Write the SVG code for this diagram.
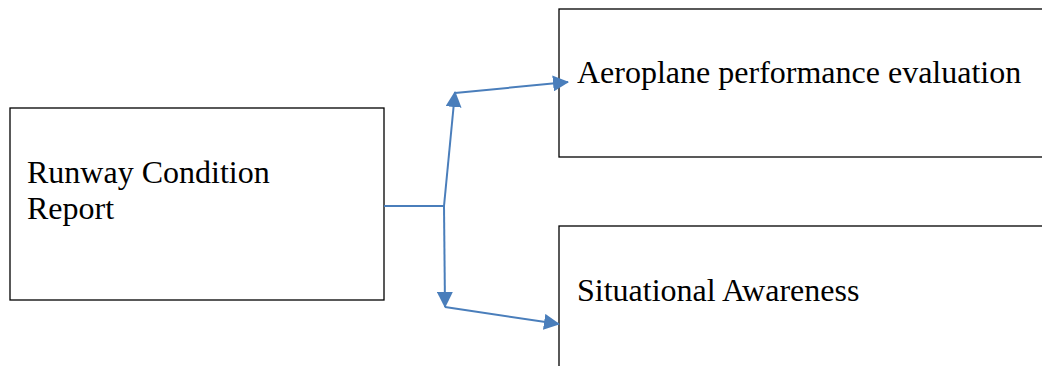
<svg xmlns="http://www.w3.org/2000/svg" width="1042" height="366" viewBox="0 0 1042 366">
  <style>
    .box { fill: #ffffff; stroke: #000000; stroke-width: 1.3; }
    .label { font-family: "Liberation Serif", "Times New Roman", serif; font-size: 32px; fill: #000000; }
    .link { fill: none; stroke: #4a7ebb; stroke-width: 2; }
  </style>
  <defs>
    <!-- filled triangular head shared by all connectors -->
    <marker id="arrow" markerUnits="userSpaceOnUse" markerWidth="16" markerHeight="16" viewBox="0 0 16 16" refX="15" refY="8" orient="auto">
      <path d="M0,0 L16,8 L0,16 Z" fill="#4a7ebb"/>
    </marker>
  </defs>

  <rect width="1042" height="366" fill="#ffffff"/>

  <g id="runway-condition-report">
    <rect class="box" x="10" y="108" width="374" height="192"/>
    <text class="label" x="27" y="183">Runway Condition</text>
    <text class="label" x="27" y="219">Report</text>
  </g>

  <!-- right-hand boxes run past the page edge -->
  <g id="aeroplane-performance">
    <rect class="box" x="559" y="9" width="500" height="148"/>
    <text class="label" x="577" y="83">Aeroplane performance evaluation</text>
  </g>

  <g id="situational-awareness">
    <rect class="box" x="559" y="226" width="500" height="160"/>
    <text class="label" x="577" y="301">Situational Awareness</text>
  </g>

  <g id="connectors">
    <path class="link" d="M384,206 L444,206"/>
    <path class="link" d="M444,206 L455,92" marker-end="url(#arrow)"/>
    <path class="link" d="M455,93 L568,82" marker-end="url(#arrow)"/>
    <path class="link" d="M444,206 L445,307" marker-end="url(#arrow)"/>
    <path class="link" d="M445,307 L559,324" marker-end="url(#arrow)"/>
  </g>
</svg>
